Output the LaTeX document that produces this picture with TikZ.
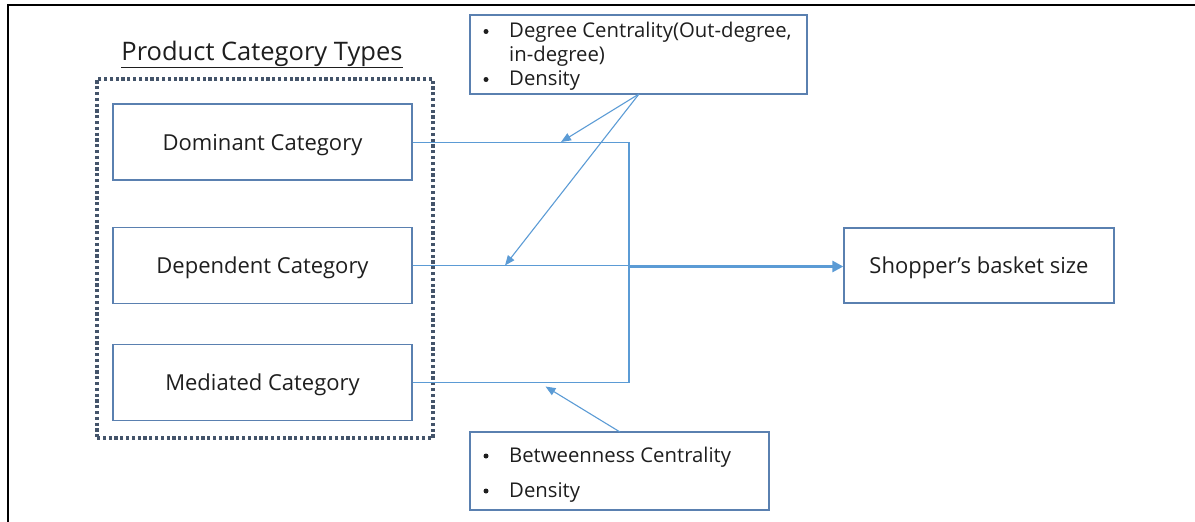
\documentclass[tikz,border=0pt]{standalone}
\usepackage{fontspec}
\setmainfont{Open Sans}
\usetikzlibrary{arrows.meta}
\definecolor{boxline}{HTML}{5A80B0}
\definecolor{linkblue}{HTML}{5B9BD5}
\definecolor{framegray}{HTML}{44546A}
\definecolor{ink}{HTML}{1E1E1E}
\begin{document}
\begin{tikzpicture}[x=1pt,y=-1pt,
  catbox/.style={draw=boxline, line width=1.3pt, minimum width=299pt, minimum height=76pt,
    inner sep=0pt, text=ink, text height=16pt, text depth=0pt, font=\fontsize{22}{26}\selectfont},
  infobox/.style={draw=boxline, line width=1.3pt, inner sep=0pt},
  infotext/.style={anchor=base west, inner sep=0pt, text=ink, font=\fontsize{20.3}{24}\selectfont},
  bulletdot/.style={circle, fill=ink, inner sep=0pt, minimum size=5pt},
  link/.style={draw=linkblue, line width=1.4pt},
  linkarrow/.style={link, -{Triangle[length=10pt,width=8pt]}},
]
\useasboundingbox (0,0) rectangle (1195,522);

% outer frame (top and left edges only)
\draw[line width=2pt, black] (8,522) -- (8,5) -- (1195,5);

% title
\node[anchor=base, inner sep=0pt, text=ink, font=\fontsize{25.5}{30}\selectfont] (title) at (262,60)
  {\underline{Product Category Types}};

% dotted group around the category boxes
\node[draw=framegray, line width=3.3pt, dash pattern=on 3.2pt off 2.6pt,
  minimum width=336pt, minimum height=359pt, inner sep=0pt] (group) at (265,258.5) {};

% category boxes
\node[catbox] (dom) at (262.5,142) {Dominant Category};
\node[catbox] (dep) at (262.5,265.5) {Dependent Category};
\node[catbox] (med) at (262.5,382.5) {Mediated Category};

% outcome box
\node[catbox, minimum width=270pt, minimum height=75pt] (shop) at (979,265.5) {Shopper’s basket size};

% upper measure box
\node[infobox, minimum width=337pt, minimum height=79pt] (deg) at (638.5,54.5) {};
\node[bulletdot] (b1) at (486,31.5) {};
\node[bulletdot] (b2) at (486,79.5) {};
\node[infotext] (t1) at (509,37.5) {Degree Centrality(Out-degree,};
\node[infotext] (t2) at (509,61.5) {in-degree)};
\node[infotext] (t3) at (509,85) {Density};

% lower measure box
\node[infobox, minimum width=299pt, minimum height=78pt] (btw) at (619.5,471) {};
\node[bulletdot] (b3) at (486,456) {};
\node[bulletdot] (b4) at (486,491) {};
\node[infotext] (t4) at (509,462) {Betweenness Centrality};
\node[infotext] (t5) at (509,497) {Density};

% connectors between categories and outcome
\coordinate (jtop) at (629,142.5);
\coordinate (jbot) at (629,382.5);
\coordinate (jmid) at (629,266.5);
\draw[link] (dom.east |- jtop) -- (jtop) -- (jbot) -- (med.east |- jbot);
\draw[link] (dep.east |- 0,265.7) -- (629,265.7);
\draw[draw=linkblue, line width=2.6pt, -{Triangle[length=11pt,width=11pt]}] (jmid) -- (shop.west |- jmid);

% measure arrows
\coordinate (degfoot) at (639,94);
\coordinate (tipdom) at (561,142);
\coordinate (tipdep) at (505,265.5);
\coordinate (btwhead) at (620,432);
\coordinate (tipmed) at (545.5,386.5);
\draw[linkarrow, line width=1.1pt] (degfoot) -- (tipdom);
\draw[linkarrow, line width=1.1pt] (degfoot) -- (tipdep);
\draw[linkarrow, line width=1.1pt] (btwhead) -- (tipmed);
\end{tikzpicture}
\end{document}
